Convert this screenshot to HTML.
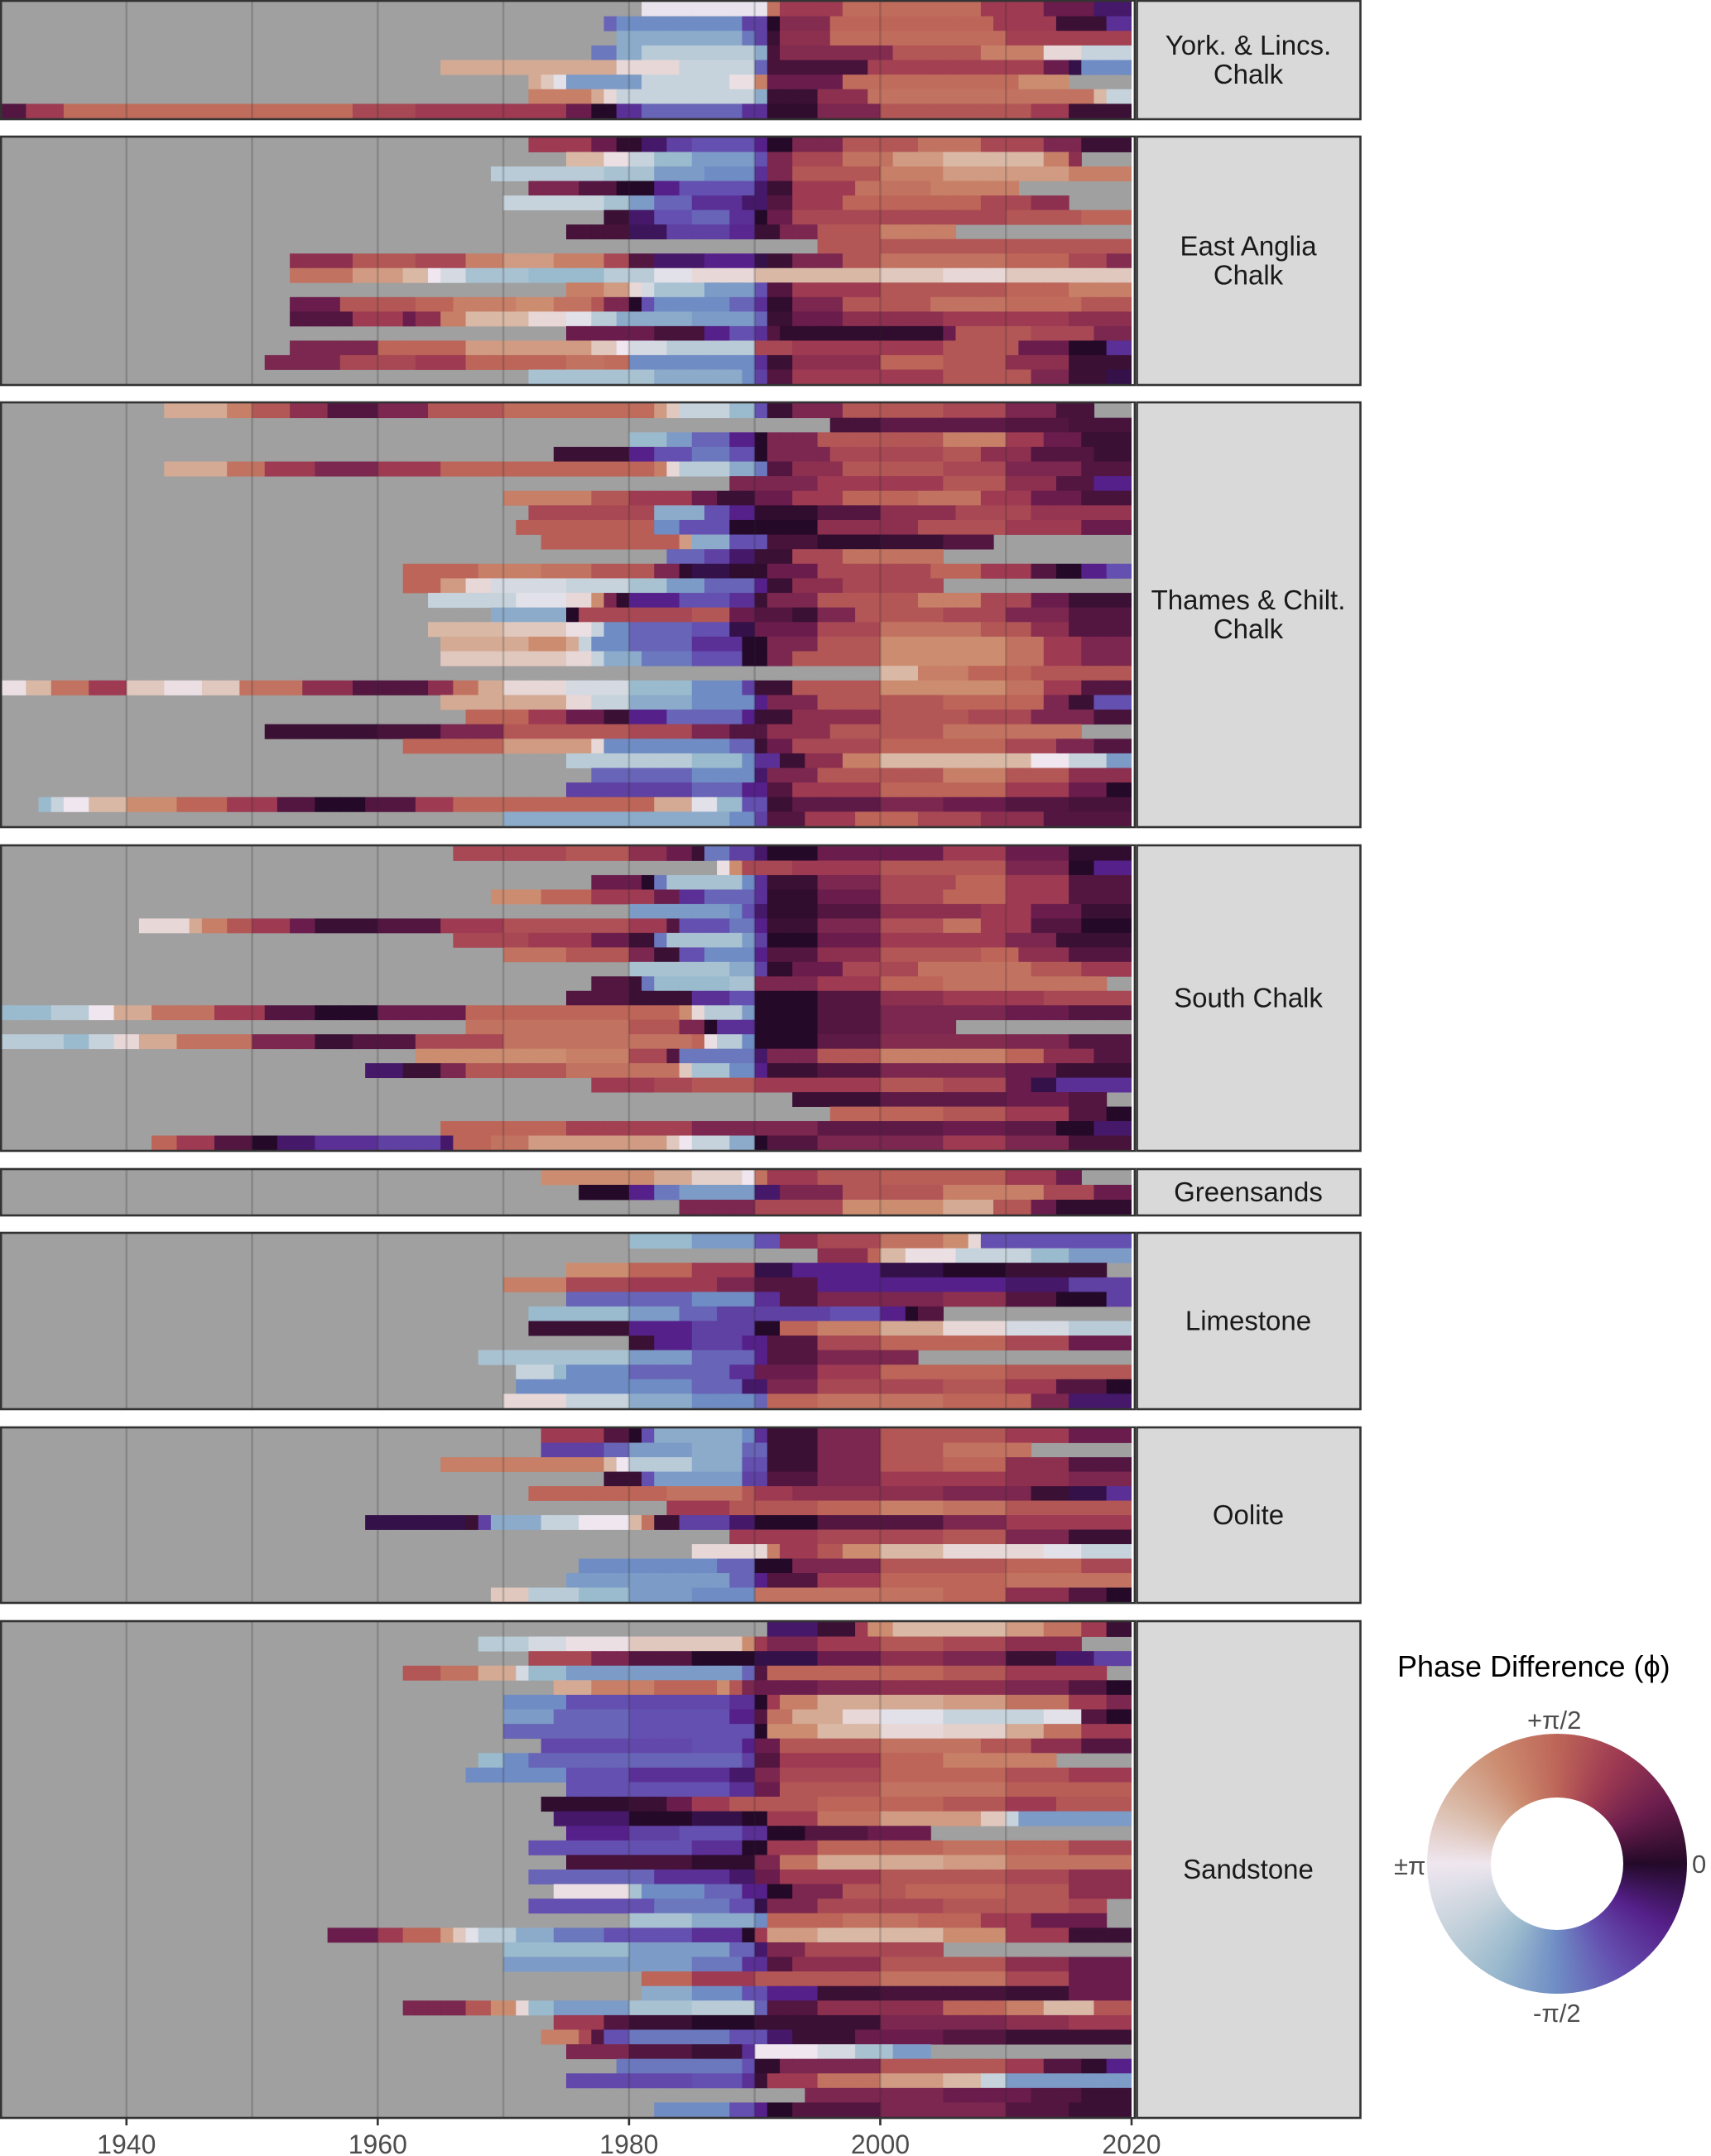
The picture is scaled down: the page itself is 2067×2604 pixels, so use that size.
<!DOCTYPE html>
<html><head><meta charset="utf-8">
<style>
html,body{margin:0;padding:0;background:#fff;}
body{width:2067px;height:2604px;position:relative;overflow:hidden;font-family:"Liberation Sans",Arial,sans-serif;}
#chart{position:absolute;left:0;top:0;}
#legend-ring{position:absolute;left:1724px;top:2094px;width:314px;height:314px;border-radius:50%;}
#legend-hole{position:absolute;left:77px;top:77px;width:160px;height:160px;border-radius:50%;background:#fff;}
.lg{position:absolute;font-size:31px;color:#4d4d4d;white-space:nowrap;}
</style></head>
<body>
<svg id="chart" width="2067" height="2604" xmlns="http://www.w3.org/2000/svg"></svg>
<div>
<div style="position:absolute;left:1688px;top:1992px;font-size:36px;color:#000;white-space:nowrap;">Phase Difference (ϕ)</div>
<div id="legend-ring"><div id="legend-hole"></div></div>
<div class="lg" style="left:1845px;top:2060px;">+π/2</div>
<div class="lg" style="left:1852px;top:2414px;">-π/2</div>
<div class="lg" style="left:1684px;top:2236px;">±π</div>
<div class="lg" style="left:2044px;top:2234px;">0</div>
</div>
<script>
// ---- data: each row = [startYear, endYear, [year, phaseDeg, year, phaseDeg, ...]] ----
const panelNames = ["York. & Lincs.\nChalk","East Anglia\nChalk","Thames & Chilt.\nChalk","South Chalk","Greensands","Limestone","Oolite","Sandstone"];
const yorkRows = [
[1981,2020,[1981,-175,1991,100,1992,60,1997,95,2008,60,2013,30,2017,-20]],
[1978,2020,[1978,-70,1979,-90,1989,-50,1991,0,1992,45,1996,90,2009,60,2014,10,2018,-40]],
[1979,2020,[1979,-110,1989,-80,1990,-50,1991,10,1992,50,1996,95,2010,65]],
[1977,2020,[1977,-80,1979,-110,1981,-140,1990,-110,1991,15,1992,45,2001,80,2008,110,2013,170,2016,-150]],
[1965,2020,[1965,140,1979,170,1984,-150,1990,-70,1991,15,1999,65,2013,30,2015,-10,2016,-90]],
[1972,2015,[1972,140,1973,160,1974,-170,1975,-100,1981,-150,1988,175,1990,110,1991,30,1997,95,2011,120]],
[1972,2020,[1972,110,1977,140,1978,170,1979,-150,1990,-110,1991,10,1995,50,1999,100,2017,150,2018,-150]],
[1930,2020,[1930,20,1932,60,1935,95,1958,70,1963,60,1975,30,1977,0,1979,-40,1981,-70,1989,-40,1991,5,1995,40,2000,80,2012,60,2015,10]]
];
const eastAngliaRows = [
[1972,2020,[1972,60,1977,30,1979,5,1981,-20,1983,-50,1985,-60,1990,-30,1991,0,1993,40,1997,80,2003,100,2008,70,2013,40,2016,10]],
[1975,2016,[1975,150,1978,175,1980,-150,1982,-120,1985,-100,1990,-60,1991,40,1993,70,1997,100,2001,130,2005,150,2013,110,2015,50]],
[1969,2020,[1969,-140,1978,-130,1982,-100,1986,-90,1990,-40,1991,40,1993,80,2000,110,2005,130,2015,110]],
[1972,2011,[1972,40,1976,20,1979,0,1982,-30,1984,-60,1990,-20,1991,10,1993,60,1998,100,2004,110]],
[1970,2015,[1970,-150,1978,-130,1980,-100,1982,-70,1985,-40,1989,-20,1991,20,1993,60,1997,90,2008,70,2012,50]],
[1978,2020,[1978,10,1980,-20,1982,-60,1985,-70,1988,-40,1990,0,1991,30,1993,70,2010,80,2016,90]],
[1975,2006,[1975,15,1980,-15,1983,-50,1988,-35,1990,10,1992,40,1995,80,2000,110]],
[1995,2020,[1995,80]],
[1953,2020,[1953,50,1958,80,1963,70,1967,110,1970,130,1974,110,1978,70,1980,20,1982,-20,1986,-30,1990,-10,1991,10,1993,40,1997,80,2000,100,2010,90,2015,70,2018,45]],
[1953,2020,[1953,100,1958,130,1962,150,1964,180,1965,-160,1967,-130,1972,-120,1978,-140,1982,-170,1985,170,1990,150,2000,160,2005,170,2010,160]],
[1975,2020,[1975,110,1978,130,1980,170,1981,-160,1982,-130,1986,-100,1990,-60,1991,20,1993,60,2000,80,2010,90,2015,110]],
[1953,2020,[1953,30,1957,80,1963,90,1966,110,1971,120,1974,100,1977,80,1978,40,1980,0,1981,-60,1982,-90,1988,-70,1990,-40,1991,5,1993,40,1997,80,2004,100,2010,95,2016,80]],
[1953,2020,[1953,20,1958,60,1962,30,1963,50,1965,110,1967,150,1972,170,1975,-170,1977,-140,1979,-110,1985,-100,1990,-70,1991,10,1993,30,1997,50,2005,60,2015,50]],
[1975,2020,[1975,30,1982,15,1986,-30,1988,-60,1990,-40,1991,20,1992,5,2005,30,2006,80,2012,70,2017,40]],
[1953,2020,[1953,40,1960,90,1967,130,1977,160,1979,180,1980,-160,1983,-140,1990,70,1993,60,2005,80,2011,30,2015,0,2018,-40]],
[1951,2020,[1951,40,1957,70,1963,60,1967,90,1975,100,1978,95,1980,-90,1990,-40,1991,10,1993,50,2000,90,2005,80,2010,50,2015,10]],
[1972,2020,[1972,-130,1982,-110,1989,-90,1990,-50,1991,20,1993,60,2005,80,2012,40,2015,10,2018,-10]]
];
const thamesRows = [
[1943,2017,[1943,140,1948,110,1950,80,1953,50,1956,20,1960,40,1964,80,1970,95,1982,130,1983,160,1984,-150,1988,-120,1990,-60,1991,10,1993,40,1997,80,2005,70,2010,40,2014,15]],
[1996,2020,[1996,15,2000,25,2010,20,2015,15]],
[1980,2020,[1980,-120,1983,-100,1985,-70,1988,-30,1990,0,1991,40,1995,80,2005,110,2010,60,2013,30,2016,10]],
[1974,2020,[1974,10,1980,-30,1982,-60,1985,-80,1988,-60,1990,0,1991,40,1996,70,2005,80,2008,50,2012,20,2017,10]],
[1943,2020,[1943,140,1948,100,1951,60,1955,40,1960,60,1965,90,1982,110,1983,170,1984,-140,1988,-110,1990,-80,1991,20,1993,50,1997,80,2005,70,2010,40,2016,20]],
[1988,2020,[1988,40,1995,60,2005,80,2010,50,2014,20,2017,-30]],
[1970,2020,[1970,110,1977,80,1980,60,1985,30,1987,10,1990,30,1993,60,1997,90,2003,100,2008,60,2012,30,2016,15]],
[1972,2020,[1972,70,1982,-110,1986,-60,1988,-30,1990,5,1995,20,2000,50,2006,70,2012,55]],
[1971,2020,[1971,85,1982,-90,1984,-60,1988,0,1995,50,2003,75,2010,60,2016,30]],
[1973,2009,[1973,85,1984,130,1985,-110,1988,-60,1991,15,1995,5,2000,10,2005,20]],
[1983,2005,[1983,-70,1986,-50,1988,-20,1990,10,1993,70,1997,100]],
[1962,2020,[1962,90,1968,110,1973,100,1977,80,1982,40,1984,5,1985,-10,1988,5,1991,30,1995,70,2004,90,2008,60,2012,20,2014,0,2016,-30,2018,-60]],
[1962,2005,[1962,90,1965,130,1967,170,1969,-160,1975,-150,1980,-130,1983,-100,1986,-70,1990,-30,1991,10,1993,50,1997,70]],
[1964,2020,[1964,-150,1971,-170,1975,170,1977,120,1978,40,1979,5,1980,-30,1984,-60,1988,-40,1990,10,1991,40,1995,80,2003,110,2008,70,2012,30,2015,10]],
[1969,2020,[1969,-110,1975,0,1976,70,1985,80,1988,30,1990,20,1993,10,1995,40,1998,80,2005,70,2010,40,2015,20]],
[1964,2020,[1964,150,1970,160,1975,175,1977,-150,1978,-90,1980,-70,1985,-60,1988,-10,1990,30,1995,70,2000,100,2008,80,2012,50,2015,20]],
[1965,2020,[1965,140,1972,120,1975,140,1976,-150,1977,-90,1980,-70,1985,-40,1989,0,1991,40,1995,80,2000,120,2010,100,2013,60,2016,40]],
[1965,2020,[1965,160,1975,170,1977,-150,1978,-110,1981,-80,1985,-60,1989,0,1991,40,1993,80,2000,120,2010,100,2013,60,2016,40]],
[2000,2020,[2000,150,2003,110,2007,90,2012,80]],
[1930,2020,[1930,175,1932,150,1934,100,1937,60,1940,160,1943,175,1946,160,1949,100,1954,50,1958,20,1964,50,1966,100,1968,140,1970,170,1975,-160,1980,-120,1985,-90,1989,-50,1990,10,1993,80,2000,120,2010,100,2013,60,2016,20]],
[1965,2020,[1965,140,1975,170,1977,-150,1980,-110,1985,-90,1990,-30,1991,40,1995,80,2005,90,2013,40,2015,10,2017,-60]],
[1967,2020,[1967,90,1972,60,1975,30,1978,10,1980,-30,1983,-70,1989,-30,1990,10,1993,50,2000,80,2007,70,2012,40,2017,15]],
[1951,2016,[1951,10,1960,15,1965,40,1970,80,1980,70,1985,40,1988,20,1991,50,1996,80,2005,100]],
[1962,2020,[1962,90,1970,130,1977,170,1978,-90,1988,-70,1990,10,1991,30,1993,70,2000,90,2010,70,2014,40,2017,20]],
[1975,2020,[1975,-140,1985,-120,1989,-90,1990,-40,1992,10,1994,50,1997,110,2000,150,2012,180,2015,-150,2018,-100]],
[1977,2020,[1977,-70,1985,-90,1990,-20,1991,40,1995,80,2005,110,2010,80,2015,50]],
[1975,2020,[1975,-50,1985,-70,1989,-30,1991,20,1993,60,2000,90,2010,60,2015,30,2018,0]],
[1933,2020,[1933,-120,1934,-150,1935,180,1937,150,1940,120,1944,90,1948,60,1952,20,1955,0,1959,20,1963,60,1966,90,1982,140,1985,-170,1987,-120,1989,-60,1991,10,1993,25,2000,40,2005,30,2010,20,2015,15]],
[1970,2020,[1970,-110,1988,-90,1990,-50,1991,20,1994,60,1998,90,2003,70,2008,50,2013,20]]
];
const southRows = [
[1966,2020,[1966,70,1975,80,1980,50,1983,30,1985,10,1986,-80,1988,-50,1990,-20,1991,0,1995,30,2005,60,2010,30,2015,5]],
[1987,2020,[1987,175,1988,120,1989,70,1993,60,2000,80,2010,40,2015,0,2017,-30]],
[1977,2020,[1977,30,1981,0,1982,-80,1983,-130,1989,-90,1990,-40,1991,10,1995,40,2000,70,2006,90,2010,60,2015,20]],
[1969,2020,[1969,120,1973,90,1977,60,1982,30,1984,-40,1986,-70,1990,-40,1991,5,1995,30,2000,70,2005,90,2010,60,2015,20]],
[1980,2020,[1980,-100,1988,-90,1989,-60,1990,-20,1991,5,1995,20,2000,50,2008,60,2012,30,2016,10]],
[1941,2020,[1941,170,1945,140,1946,110,1948,80,1950,60,1953,30,1955,10,1960,20,1965,60,1970,75,1980,60,1983,20,1984,-60,1988,-80,1990,-30,1991,10,1995,40,2000,75,2005,100,2008,60,2012,20,2016,0]],
[1966,2020,[1966,70,1972,60,1977,30,1980,10,1982,-80,1983,-130,1989,-100,1990,-50,1991,0,1995,30,2000,60,2010,40,2014,10]],
[1970,2020,[1970,100,1975,80,1980,40,1982,10,1984,-60,1986,-90,1990,-30,1991,20,1995,50,2000,80,2008,90,2011,50,2015,20]],
[1980,2020,[1980,-130,1988,-110,1990,-50,1991,5,1993,30,1997,70,2003,100,2012,80,2016,60]],
[1977,2018,[1977,20,1980,10,1981,-80,1982,-120,1988,-130,1990,40,1995,60,2000,90,2005,100]],
[1975,2020,[1975,20,1980,10,1985,-40,1988,-60,1990,0,1995,20,2000,50,2005,60,2013,70]],
[1930,2020,[1930,-120,1934,-140,1937,180,1939,140,1942,100,1947,60,1951,20,1955,0,1960,30,1967,90,1984,120,1985,170,1986,-140,1989,-100,1990,0,1995,20,2000,40,2010,30,2015,20]],
[1967,2006,[1967,100,1980,80,1984,40,1986,0,1987,-40,1990,0,1995,20,2000,40]],
[1930,2020,[1930,-140,1935,-120,1937,-150,1939,170,1941,140,1944,100,1950,40,1955,10,1958,20,1963,70,1970,100,1985,90,1986,175,1987,-140,1989,-90,1990,0,1995,25,2000,45,2010,40,2015,20]],
[1963,2020,[1963,120,1975,110,1980,70,1983,20,1984,-80,1988,-80,1990,-20,1991,40,1995,80,2000,110,2010,90,2013,50,2017,20]],
[1959,2020,[1959,-20,1962,10,1965,40,1967,80,1975,100,1984,160,1985,-130,1988,-90,1990,-30,1991,10,1995,20,2000,40,2010,30,2014,10]],
[1977,2020,[1977,60,1982,70,1985,80,1990,60,2000,80,2005,70,2010,30,2012,-10,2014,-40]],
[1993,2018,[1993,10,2000,25,2010,30,2015,20]],
[1996,2020,[1996,90,2005,80,2010,60,2015,20,2018,0]],
[1965,2020,[1965,90,1975,65,1985,40,1995,25,2005,30,2010,25,2014,0,2017,-20]],
[1942,2020,[1942,90,1944,60,1947,20,1950,0,1952,-20,1955,-40,1960,-50,1965,-20,1966,90,1969,100,1972,130,1983,160,1984,180,1985,-150,1988,-110,1990,0,1991,20,1995,40,2005,60,2010,40,2015,15]]
];
const greensandRows = [
[1973,2016,[1973,120,1982,140,1985,165,1989,180,1990,100,1991,60,1995,80,2000,85,2010,60,2014,30]],
[1976,2020,[1976,0,1980,-30,1982,-80,1984,-100,1990,-20,1992,40,1997,80,2005,110,2013,70,2017,30]],
[1984,2020,[1984,40,1990,70,1997,120,2005,140,2009,80,2012,30,2014,5]]
];
const limestoneRows = [
[1980,2020,[1980,-120,1985,-100,1990,-60,1992,50,1995,70,2000,100,2005,120,2007,170,2008,-60]],
[1995,2020,[1995,50,1999,90,2000,150,2002,175,2006,-150,2012,-120,2015,-100]],
[1975,2018,[1975,120,1980,90,1985,60,1990,-10,1993,-30,2000,-10,2005,0,2010,10]],
[1970,2020,[1970,110,1975,70,1980,60,1987,40,1990,20,1995,-30,2010,-20,2015,-50]],
[1975,2020,[1975,-70,1985,-90,1990,-40,1992,20,1995,40,2005,50,2010,20,2014,0,2018,-50]],
[1972,2005,[1972,-120,1980,-100,1984,-70,1987,-50,1996,-60,2000,-30,2002,0,2003,20]],
[1972,2020,[1972,10,1980,-30,1985,-50,1990,0,1992,90,1995,110,2000,140,2005,170,2010,-160,2015,-140]],
[1980,2020,[1980,10,1982,-30,1985,-50,1989,-30,1991,20,1995,70,2000,90,2010,70,2015,30]],
[1968,2003,[1968,-130,1980,-100,1985,-70,1990,-30,1991,20,1995,40]],
[1971,2020,[1971,-150,1974,-120,1975,-90,1980,-70,1988,-40,1990,30,1995,60,2000,90,2010,80]],
[1971,2020,[1971,-90,1985,-70,1989,-20,1991,40,1995,70,2005,80,2010,60,2014,20,2018,0]],
[1970,2020,[1970,170,1975,-150,1980,-110,1985,-90,1990,-70,1991,90,1995,100,2005,90,2012,40,2015,-20]]
];
const ooliteRows = [
[1973,2020,[1973,60,1978,20,1980,0,1981,-60,1982,-110,1989,-90,1990,-40,1991,10,1995,40,2000,80,2010,60,2015,30]],
[1973,2012,[1973,-50,1978,-70,1980,-100,1985,-110,1989,-70,1991,10,1995,40,2000,80,2005,100]],
[1965,2020,[1965,110,1978,150,1979,180,1980,-140,1985,-110,1989,-60,1991,10,1995,40,2000,80,2005,90,2010,50,2015,20]],
[1978,2020,[1978,10,1981,-60,1982,-100,1989,-50,1991,20,1995,40,2000,60,2010,50,2015,40]],
[1972,2020,[1972,90,1983,100,1989,80,1990,60,1993,50,2005,40,2012,10,2015,-10,2018,-40]],
[1983,2020,[1983,60,1988,80,1995,90,2000,110,2005,100,2010,80]],
[1959,2020,[1959,-10,1967,10,1968,-50,1969,-110,1973,-150,1976,180,1980,150,1981,100,1982,10,1984,-50,1988,-20,1990,0,1995,20,2005,40,2010,60]],
[1988,2020,[1988,60,1995,70,2005,80,2010,40,2015,10]],
[1985,2020,[1985,170,1991,110,1992,60,1995,80,1997,120,2000,150,2005,170,2013,-170,2016,-150]],
[1976,2020,[1976,-90,1987,-70,1990,0,1993,40,2000,80,2010,90,2016,70]],
[1975,2020,[1975,-100,1988,-70,1990,-30,1991,20,1995,60,2000,90,2010,100]],
[1969,2020,[1969,160,1972,-140,1976,-120,1980,-100,1985,-90,1990,100,2005,90,2010,50,2015,20,2018,0]]
];
const sandstoneRows = [
[1991,2020,[1991,-20,1995,10,1998,60,1999,120,2001,150,2010,130,2013,100,2016,60,2018,10]],
[1968,2016,[1968,-140,1972,-160,1975,175,1980,160,1989,120,1990,60,1991,40,1995,60,2000,80,2005,70,2010,50]],
[1972,2020,[1972,70,1977,40,1980,20,1985,0,1990,-10,1995,30,2000,50,2005,40,2010,10,2014,-20,2017,-50]],
[1962,2018,[1962,80,1965,100,1968,140,1971,-160,1972,-120,1975,-100,1989,-70,1990,20,1991,90,2005,80,2010,60]],
[1974,2020,[1974,140,1977,110,1982,90,1987,120,1988,80,1989,40,1990,30,1995,40,2000,50,2010,40,2015,20,2018,0]],
[1970,2020,[1970,-90,1975,-60,1980,-55,1988,-40,1990,0,1991,60,1992,110,1995,140,2005,130,2010,100,2015,60,2018,40]],
[1970,2020,[1970,-100,1974,-70,1980,-60,1988,-30,1990,20,1991,100,1993,140,1997,170,2000,-170,2005,-150,2013,-170,2016,20,2018,0]],
[1970,2020,[1970,-70,1980,-60,1990,0,1991,120,1995,150,2000,170,2005,165,2010,140,2013,100,2016,60]],
[1973,2020,[1973,-55,1985,-60,1989,-30,1990,30,1992,80,2000,100,2008,80,2012,50,2016,20]],
[1968,2014,[1968,-120,1970,-90,1972,-70,1980,-70,1989,-50,1990,20,1992,60,2000,90,2005,110]],
[1967,2020,[1967,-90,1975,-60,1980,-40,1988,-20,1990,40,1992,70,2000,90,2010,75,2015,60]],
[1975,2020,[1975,-60,1988,-40,1990,30,1992,80,2000,100,2010,85]],
[1973,2020,[1973,5,1980,10,1983,30,1985,60,1988,80,1995,90,2005,80,2010,60,2014,80]],
[1974,2020,[1974,-20,1980,0,1985,-10,1989,0,1991,60,1995,100,2000,130,2008,160,2010,-150,2011,-100]],
[1975,2004,[1975,-30,1980,-50,1984,-60,1989,-40,1991,0,1994,20,1999,30]],
[1972,2020,[1972,-60,1985,-40,1989,0,1991,60,1995,90,2005,100,2010,90,2015,70]],
[1975,2020,[1975,15,1985,5,1990,40,1992,100,1995,140,2005,130,2010,100]],
[1972,2020,[1972,-70,1982,-40,1988,-20,1990,30,1992,60,2000,80,2010,70,2015,50]],
[1974,2020,[1974,175,1980,-130,1981,-90,1986,-70,1989,-30,1991,0,1993,40,1997,80,2002,90,2010,80,2015,50]],
[1972,2018,[1972,-60,1982,-80,1988,-60,1990,-10,1991,40,1995,70,2005,80,2015,70]],
[1980,2018,[1980,-130,1985,-110,1990,-90,1991,90,1997,100,2003,90,2008,60,2012,30]],
[1956,2020,[1956,30,1960,60,1962,90,1965,130,1966,160,1967,-170,1968,-140,1971,-110,1974,-80,1978,-60,1985,-40,1989,0,1990,60,1991,130,1995,150,2005,120,2010,60,2015,10]],
[1970,2005,[1970,-120,1980,-100,1988,-70,1990,-20,1991,40,1994,70]],
[1970,2020,[1970,-100,1985,-80,1989,-40,1991,20,1993,50,2000,80,2010,50,2015,30]],
[1981,2020,[1981,90,1985,60,1990,80,2000,100,2010,70,2015,30]],
[1981,2020,[1981,-110,1985,-90,1989,-60,1991,-30,1995,10,2000,15,2010,10,2015,30]],
[1962,2020,[1962,40,1967,80,1969,120,1971,170,1972,-120,1974,-100,1980,-130,1985,-140,1990,-70,1991,20,1995,50,2005,90,2010,110,2013,150,2017,80]],
[1974,2020,[1974,60,1978,20,1980,10,1985,0,1990,10,2000,40,2010,50,2015,60]],
[1973,2020,[1973,110,1976,70,1977,20,1978,-60,1980,-80,1988,-60,1991,-20,1993,10,1998,30,2005,20,2010,10]],
[1975,2004,[1975,40,1980,20,1985,10,1989,-40,1990,180,1995,-160,1998,-130,2001,-100]],
[1979,2020,[1979,-80,1989,-60,1990,5,1992,40,2000,80,2010,60,2013,20,2016,5,2018,-30]],
[1975,2020,[1975,-55,1985,-60,1989,-40,1990,10,1991,60,1995,100,2000,130,2005,150,2008,-150,2010,-100]],
[1994,2020,[1994,40,2005,30,2012,20,2016,10]],
[1982,2020,[1982,-90,1988,-60,1990,-30,1991,0,1993,20,2000,40,2010,20,2015,10]]
];
const allPanels = [yorkRows,eastAngliaRows,thamesRows,southRows,greensandRows,limestoneRows,ooliteRows,sandstoneRows];
const xTicks = [1940,1960,1980,2000,2020];
const gridYears = [1940,1950,1960,1970,1980,1990,2000,2010];

// ---- layout ----
const panelTops = [2,166,487,1022,1413,1490,1725,1959];
const panelBottoms = [143,464,998,1389,1467,1701,1935,2557];
const X0 = 1, X1 = 1367, YMIN = 1930, YMAX = 2020;
function xScale(y){ return X0 + (y - YMIN) * (X1 - X0) / (YMAX - YMIN); }

// colormap (twilight-like), phase deg -> rgb
const cmDeg = [-180,-150,-120,-90,-60,-30,0,30,60,90,120,150,180];
const cmCol = ["#efe6ef","#c7d3dc","#9abacd","#6f8cc4","#6450b0","#55208a","#240929","#6a1d4d","#9e3a52","#bd6558","#cc8c70","#d9b9a6","#efe6ef"];
function hex(h){return [parseInt(h.slice(1,3),16),parseInt(h.slice(3,5),16),parseInt(h.slice(5,7),16)];}
function phaseColor(d){
  while(d>180)d-=360; while(d<-180)d+=360;
  let i=0; while(i<cmDeg.length-2 && d>cmDeg[i+1]) i++;
  const t=(d-cmDeg[i])/(cmDeg[i+1]-cmDeg[i]);
  const a=hex(cmCol[i]),b=hex(cmCol[i+1]);
  return "rgb("+a.map((v,k)=>Math.round(v+(b[k]-v)*t)).join(",")+")";
}
function valueAt(pairs,y){ let v=pairs[1]; for(let k=0;k<pairs.length;k+=2){ if(pairs[k]<=y) v=pairs[k+1]; } return v; }

const NS="http://www.w3.org/2000/svg";
const svg=document.getElementById('chart');
function mk(tag,attrs,parent){const e=document.createElementNS(NS,tag);for(const k in attrs)e.setAttribute(k,attrs[k]);(parent||svg).appendChild(e);return e;}

allPanels.forEach((rows,p)=>{
  const g=mk('g',{});
  
  
  const top=panelTops[p], bot=panelBottoms[p];
  const rh=(bot-top)/rows.length;
  const bg=mk('rect',{x:X0,y:top,width:X1-X0,height:bot-top,fill:'#a0a0a0'},g);
  
  
  rows.forEach((r,i)=>{
    const y0=top+i*rh;
    for(let yr=r[0];yr<r[1];yr++){
      const c=mk('rect',{x:xScale(yr),y:y0,width:xScale(yr+1)-xScale(yr)+0.6,height:rh+0.4,fill:phaseColor(valueAt(r[2],yr))},g);
      
      
    }
  });
  gridYears.forEach(yr=>{
    const l=mk('line',{x1:xScale(yr),x2:xScale(yr),y1:top,y2:bot,stroke:'rgba(40,40,40,0.22)','stroke-width':2.5},g);
    
    
  });
  const br=mk('rect',{x:1.2,y:top-1,width:1369.5,height:bot-top+2,fill:'none',stroke:'#333','stroke-width':2.6},g);
  
  
  mk('rect',{x:X1,y:top,width:2.6,height:bot-top,fill:'#fff'},g);
  const st=mk('rect',{x:1373.5,y:top-1,width:270,height:bot-top+2,fill:'#d9d9d9',stroke:'#333','stroke-width':2.6},g);
  
  
  const lines=panelNames[p].split("\n");
  const cy=(top+bot)/2;
  lines.forEach((t,k)=>{
    const tx=mk('text',{x:1508,y:cy+(k-(lines.length-1)/2)*35+11,'text-anchor':'middle','font-size':33,fill:'#1a1a1a','font-family':'Liberation Sans, Arial, sans-serif'},g);
    tx.textContent=t;
    
    
  });
});
xTicks.forEach(yr=>{
  const tk=mk('line',{x1:xScale(yr),x2:xScale(yr),y1:2558,y2:2567,stroke:'#333','stroke-width':2.6});
  
  
  const t=mk('text',{x:xScale(yr),y:2601,'text-anchor':'middle','font-size':32,fill:'#4d4d4d','font-family':'Liberation Sans, Arial, sans-serif'});
  t.textContent=String(yr);
  
  
});
// legend ring
const stops=[];
for(let th=0;th<=360;th+=5){ stops.push(phaseColor(90-th)+" "+th+"deg"); }
document.getElementById('legend-ring').style.background="conic-gradient("+stops.join(",")+")";
</script>
</body></html>
